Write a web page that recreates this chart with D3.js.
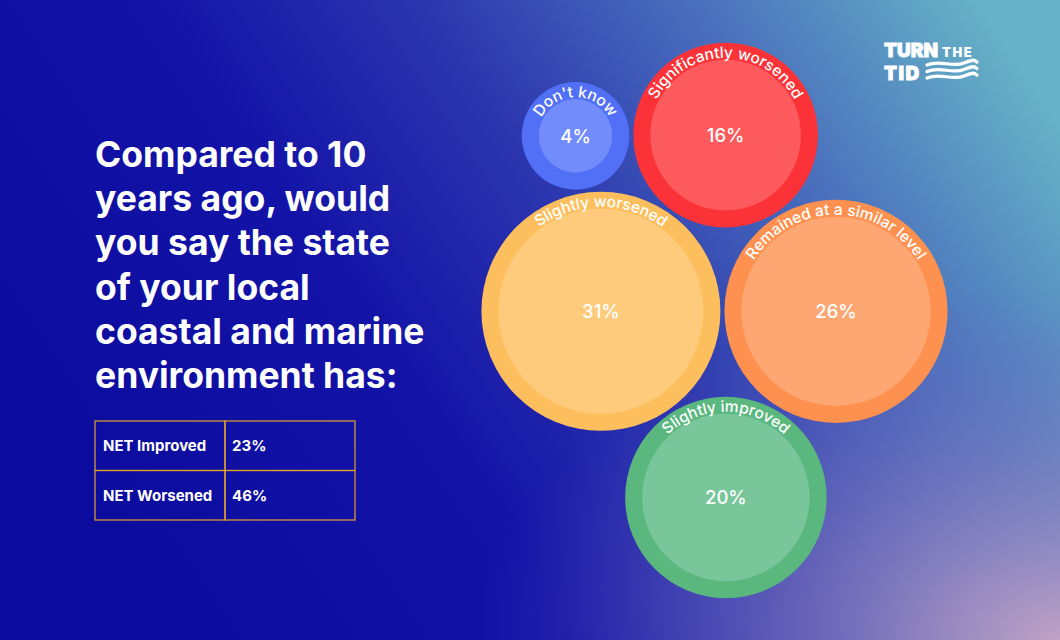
<!DOCTYPE html>
<html><head><meta charset="utf-8">
<script src="https://cdn.jsdelivr.net/npm/d3@7"></script>
<style>html,body{margin:0;padding:0;background:#0b0b9e;}svg{display:block;font-family:Inter,"Noto Sans",sans-serif;}</style>
</head><body><svg id="chart" width="1060" height="640"></svg>
<script>
// ---- data ----
const categories = ["Don't know","Significantly worsened","Slightly worsened","Remained at a similar level","Slightly improved"];
const values = [4,16,31,26,20];
const ringColors = ["#5170f6","#fb3237","#fdbf5e","#fe914f","#5ab77e"];
const fillColors = ["#728cfb","#fc5a5c","#fecb7c","#fea773","#79c69b"];
const titleLines = ["Compared to 10","years ago, would","you say the state","of your local","coastal and marine","environment has:"];
const netLabels = ["NET Improved","NET Worsened"];
const netValues = [23,46];

const W = 1060, H = 640;
const svg = d3.select("#chart");
const defs = svg.append("defs");

// ---- background ----
const lg = defs.append("linearGradient").attr("id","bg").attr("x1","0").attr("y1","0.6").attr("x2","1").attr("y2","0.2");
[["0","#0b0b9e"],["0.33","#1313a7"],["0.55","#2c36ae"],["0.78","#4b72bd"],["1","#66b2c6"]].forEach(s=>lg.append("stop").attr("offset",s[0]).attr("stop-color",s[1]));
const rg = defs.append("radialGradient").attr("id","pink").attr("cx","1").attr("cy","1").attr("r","0.55");
rg.append("stop").attr("offset","0").attr("stop-color","#c6a6c6").attr("stop-opacity",0.95);
rg.append("stop").attr("offset","0.6").attr("stop-color","#8a80c0").attr("stop-opacity",0.4);
rg.append("stop").attr("offset","1").attr("stop-color","#6a60c0").attr("stop-opacity",0);
svg.append("rect").attr("width",W).attr("height",H).attr("fill","url(#bg)");
svg.append("rect").attr("width",W).attr("height",H).attr("fill","url(#pink)");

// ---- title ----
const title = svg.append("text").attr("x",95).attr("fill","#fff").attr("font-weight",700).attr("font-size",35.5);
titleLines.forEach((l,i)=>title.append("tspan").attr("x",95).attr("y",167 + i*44.2).text(l));

// ---- NET table ----
const rowScale = d3.scaleBand().domain(netLabels).range([421,520]);
const colScale = d3.scaleBand().domain(["label","value"]).range([95,355]);
const table = svg.append("g");
netLabels.forEach((lab,i)=>{
  const y = rowScale(lab);
  ["label","value"].forEach(c=>{
    table.append("rect").attr("x",colScale(c)).attr("y",y).attr("width",colScale.bandwidth()).attr("height",rowScale.bandwidth())
      .attr("fill","none").attr("stroke","#e6a22a").attr("stroke-width",1.2);
  });
  table.append("text").attr("x",colScale("label")+8).attr("y",y+rowScale.bandwidth()/2).attr("dy","0.35em")
    .attr("fill","#fff").attr("font-size",15).attr("font-weight",700).text(lab);
  table.append("text").attr("x",colScale("value")+7).attr("y",y+rowScale.bandwidth()/2).attr("dy","0.35em")
    .attr("fill","#fff").attr("font-size",15).attr("font-weight",700).text(netValues[i]+"%");
});

// ---- bubbles ----
const rScale = d3.scalePow().exponent(0.39).domain([0,d3.max(values)]).range([0,119.5]);
const band = 17, gap = 4;
const nodes = categories.map((c,i)=>({name:c,value:values[i],r:rScale(values[i]),ring:ringColors[i],fill:fillColors[i]}));
const byName = Object.fromEntries(nodes.map(n=>[n.name,n]));
function tangent(a,b,r,side){
  const da=a.r+r+gap, db=b.r+r+gap;
  const dx=b.x-a.x, dy=b.y-a.y, d=Math.hypot(dx,dy);
  const t=(da*da-db*db+d*d)/(2*d), h=Math.sqrt(Math.max(0,da*da-t*t));
  const ux=dx/d, uy=dy/d;
  return {x:a.x+t*ux - side*h*uy, y:a.y+t*uy + side*h*ux};
}
const sw = byName["Slightly worsened"], rem = byName["Remained at a similar level"];
const sig = byName["Significantly worsened"], imp = byName["Slightly improved"], dk = byName["Don't know"];
sw.x = 0; sw.y = 0;
rem.x = sw.r + rem.r + gap; rem.y = 0;
Object.assign(sig, tangent(sw, rem, sig.r, -1));
Object.assign(imp, tangent(sw, rem, imp.r, 1));
Object.assign(dk, tangent(sw, sig, dk.r, -1));
const x0 = d3.min(nodes,n=>n.x-n.r), x1 = d3.max(nodes,n=>n.x+n.r);
const y0 = d3.min(nodes,n=>n.y-n.r), y1 = d3.max(nodes,n=>n.y+n.r);
const cx = 714.5, cy = 320.5;
const ox = cx-(x0+x1)/2, oy = cy-(y0+y1)/2;

const g = svg.append("g").attr("transform",`translate(${ox},${oy})`);
const bub = g.selectAll("g.bub").data(nodes).join("g").attr("class","bub").attr("transform",d=>`translate(${d.x},${d.y})`);
bub.append("circle").attr("r",d=>d.r).attr("fill",d=>d.ring);
bub.append("circle").attr("r",d=>d.r-band).attr("fill",d=>d.fill);
bub.append("path").attr("id",(d,i)=>"arc"+i).attr("fill","none")
  .attr("d",d=>{const r=d.r-15; return `M${-r},0 A${r},${r} 0 0 1 ${r},0`;});
bub.append("text").attr("fill","#fff").attr("font-size",15.5).attr("font-weight",500)
  .append("textPath").attr("href",(d,i)=>"#arc"+i).attr("startOffset","50%").attr("text-anchor","middle").text(d=>d.name);
bub.append("text").attr("fill","#fff").attr("font-size",18.5).attr("font-weight",500).attr("text-anchor","middle").attr("dy","0.36em")
  .text(d=>d.value+"%");

// ---- logo ----
const logo = svg.append("g").attr("fill","#fff").attr("font-weight",900);
logo.append("text").attr("x",884).attr("y",56.5).attr("font-size",19).attr("stroke","#fff").attr("stroke-width",0.8).text("TURN");
logo.append("text").attr("x",942).attr("y",56.5).attr("font-size",13).attr("letter-spacing",1.5).text("THE");
logo.append("text").attr("x",884).attr("y",79.5).attr("font-size",19).attr("stroke","#fff").attr("stroke-width",0.8).attr("letter-spacing",1.5).text("TID");
[63,69.5,76].forEach((yy,i)=>{
  logo.append("path").attr("fill","none").attr("stroke","#fff").attr("stroke-width",3.2).attr("stroke-linecap","round")
    .attr("d",`M927,${yy+2} C940,${yy-4} 952,${yy+5} 964,${yy} S975,${yy-2} 977,${yy-1}`);
});
</script></body></html>
